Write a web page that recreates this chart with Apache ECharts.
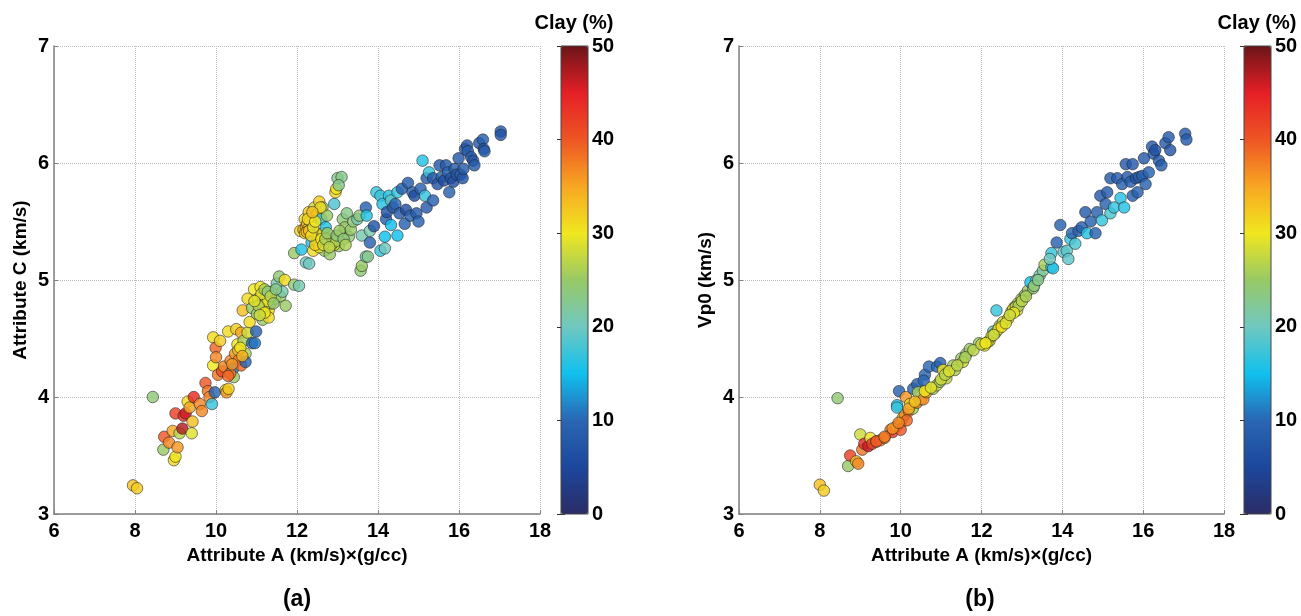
<!DOCTYPE html>
<html><head><meta charset="utf-8">
<script src="https://cdn.jsdelivr.net/npm/echarts@6/dist/echarts.min.js"></script>
<style>html,body{margin:0;padding:0;background:#fff}#c{width:1301px;height:616px}</style>
</head><body><div id="c"></div>
<script>
// Panel (a): Attribute A vs Attribute C, coloured by clay %
const aAttrA = [7.95,8.05,8.44,8.7,8.72,8.84,8.93,8.96,9.0,9.0,9.05,9.1,9.17,9.2,9.25,9.3,9.35,9.4,9.42,9.45,9.6,9.65,9.74,9.8,9.84,9.9,9.93,9.93,9.97,9.99,10.0,10.05,10.1,10.15,10.2,10.24,10.26,10.31,10.3,10.36,10.42,10.44,10.47,10.5,10.53,10.57,10.62,10.62,10.68,10.66,10.73,10.73,10.78,10.83,10.89,10.96,10.99,10.78,10.89,10.94,11.01,11.04,11.1,11.15,11.18,11.25,11.3,11.35,11.4,11.3,11.46,11.5,11.56,11.59,11.64,11.7,11.72,11.93,12.05,11.93,12.11,12.08,12.16,12.19,12.22,12.3,12.29,12.34,12.36,12.4,12.43,12.47,12.5,12.55,12.6,12.63,12.65,12.68,12.71,12.74,12.78,12.81,12.86,12.92,12.95,12.97,13.0,13.1,13.03,13.03,13.08,13.13,13.18,13.23,13.28,13.33,13.39,13.49,13.54,13.6,13.57,13.6,13.7,13.75,13.8,13.7,13.72,13.8,13.9,13.96,14.06,14.06,14.17,14.17,14.11,14.2,14.22,14.27,14.32,14.32,14.37,14.43,14.48,14.53,14.48,14.59,14.66,14.69,14.74,14.8,14.85,14.9,14.95,15.05,15.0,15.1,15.16,15.2,15.26,15.2,15.36,15.36,15.47,15.52,15.57,15.63,15.68,15.73,15.76,15.8,15.86,15.89,15.94,15.99,16.04,16.09,16.11,16.15,16.2,16.22,16.3,16.35,16.38,16.5,16.59,16.61,16.63,17.03,17.03,
 12.22,12.25,12.28,12.2,12.32,12.27,12.24,12.88,12.9,12.92,12.85,12.95,12.5,12.55,12.45,11.15,11.2,11.22,11.28,
 11.05,11.12,11.2,11.28,11.35,11.42,11.48,11.2,11.08,10.95,12.3,12.35,12.4,12.6,12.65,12.7,12.75,12.8,12.98,13.05,13.15,13.2,12.58,12.45,12.38,10.35,10.4,10.3,10.55,10.6,10.65];
const aAttrC = [3.245,3.22,4.0,3.55,3.66,3.61,3.71,3.46,3.49,3.86,3.57,3.69,3.73,3.84,3.86,3.96,3.91,3.69,3.79,4.0,3.94,3.88,4.12,4.05,4.0,3.94,4.51,4.27,4.04,4.42,4.34,4.19,4.48,4.22,4.26,4.06,4.04,4.07,4.56,4.31,4.24,4.17,4.37,4.58,4.45,4.32,4.27,4.55,4.48,4.74,4.37,4.30,4.55,4.64,4.46,4.46,4.56,4.84,4.76,4.92,4.71,4.84,4.94,4.66,4.80,4.88,4.74,4.80,4.90,4.68,4.84,4.97,5.03,4.86,4.90,5.0,4.78,4.96,4.95,5.23,5.26,5.42,5.43,5.52,5.15,5.14,5.58,5.47,5.32,5.25,5.62,5.40,5.56,5.67,5.52,5.62,5.40,5.25,5.45,5.55,5.32,5.22,5.35,5.65,5.75,5.78,5.87,5.88,5.81,5.29,5.38,5.52,5.45,5.57,5.37,5.43,5.50,5.52,5.55,5.38,5.08,5.12,5.20,5.20,5.32,5.62,5.55,5.42,5.46,5.75,5.72,5.25,5.27,5.37,5.65,5.52,5.58,5.72,5.68,5.47,5.62,5.65,5.38,5.57,5.75,5.78,5.48,5.60,5.83,5.55,5.75,5.72,5.57,5.78,5.50,6.02,5.72,5.87,5.92,5.62,5.68,5.87,5.82,5.98,5.88,5.85,5.98,5.92,5.75,5.87,5.84,5.95,5.90,6.04,5.90,5.87,5.95,6.12,6.15,6.10,6.05,6.02,5.98,6.17,6.2,6.12,6.1,6.27,6.24,
 5.45,5.48,5.44,5.40,5.50,5.52,5.41,5.32,5.34,5.30,5.30,5.33,5.33,5.28,5.30,4.82,4.78,4.84,4.82,
 4.78,4.88,4.92,4.9,4.86,4.8,4.92,4.72,4.7,4.82,5.42,5.38,5.45,5.35,5.3,5.35,5.4,5.28,5.38,5.42,5.35,5.3,5.62,5.5,5.58,4.2,4.28,4.18,4.4,4.42,4.35];
const aClay = [33,32,24,25,40,37,35,31,30,42,36,27,47,44,46,31,35,29,33,44,37,37,40,38,37,17,31,30,10,39,37,38,32,41,37,31,36,32,31,37,11,25,36,32,30,37,39,35,26,33,26,10,28,31,10,11,9,31,25,30,25,31,30,25,28,25,31,22,25,31,24,21,24,25,21,31,25,24,21,25,16,31,34,31,20,20,32,31,16,31,28,31,31,32,16,25,31,25,16,25,28,25,30,18,31,30,23,23,23,25,25,24,25,23,24,25,24,21,24,21,24,25,21,23,9,9,16,21,7,17,17,17,20,15,16,9,7,16,19,15,8,10,15,8,17,9,9,6,8,9,9,6,8,9,9,16,17,8,17,8,9,8,7,8,9,6,8,10,9,7,6,8,7,8,9,7,8,8,7,9,8,7,8,8,9,7,8,8,7,
 33,34,32,31,33,31,35,28,27,29,30,26,31,30,32,29,28,26,30,
 27,29,26,24,27,25,23,30,28,29,33,31,29,30,28,26,25,27,24,25,24,26,31,30,33,38,36,39,33,30,34];

// Panel (b): Attribute A vs Vp0, coloured by clay %
const bAttrA = [8.0,8.1,8.7,8.75,8.9,8.95,9.0,9.05,9.1,9.2,9.25,9.3,9.4,9.5,9.6,9.75,9.8,9.9,10.0,10.05,10.1,10.2,10.3,10.4,10.5,10.0,10.15,
 8.44,9.96,9.91,9.91,10.13,10.23,10.31,10.41,10.6,10.57,10.7,10.9,10.98,11.05,11.17,11.3,11.5,11.63,11.71,10.43,10.56,10.64,10.8,10.89,10.97,11.13,11.34,11.54,11.94,12.08,12.2,12.29,12.37,12.45,12.53,12.66,12.74,12.82,12.9,12.99,13.07,13.15,13.21,13.28,13.36,13.44,13.52,13.56,13.73,13.77,13.73,13.69,13.86,13.95,14.03,14.11,14.15,14.2,14.24,14.32,14.4,14.48,14.61,14.57,14.7,14.82,14.86,14.94,14.98,15.07,15.11,15.19,15.19,15.28,15.36,15.44,15.48,15.53,15.57,15.61,15.69,15.74,15.74,15.82,15.86,15.9,15.98,16.02,16.06,16.14,16.22,16.26,16.3,16.39,16.45,16.55,16.63,16.67,17.04,17.07,
 12.78,12.85,12.88,12.92,12.8,12.15,12.25,12.35,12.42,12.5,12.6,
 11.0,11.1,11.2,11.4,11.6,11.8,12.0,12.1,12.3,12.7,13.0,13.1,13.3,13.4,10.2,10.35,10.6,10.75,9.4,9.6,9.8,9.95];
const bVp0 = [3.25,3.2,3.41,3.5,3.45,3.43,3.68,3.55,3.6,3.58,3.65,3.6,3.62,3.63,3.65,3.72,3.7,3.75,3.78,3.82,3.85,3.88,3.9,3.95,3.98,3.72,3.8,
 3.99,4.05,3.93,3.91,4.0,3.94,4.07,4.11,4.19,4.14,4.26,4.26,4.29,4.23,4.21,4.27,4.33,4.37,4.41,4.04,3.98,4.04,4.07,4.1,4.13,4.16,4.23,4.3,4.46,4.44,4.48,4.56,4.74,4.61,4.64,4.67,4.73,4.77,4.8,4.84,4.87,4.91,4.98,4.93,5.0,5.04,5.08,5.13,5.11,5.1,5.23,5.18,5.32,5.47,5.24,5.25,5.18,5.35,5.4,5.31,5.42,5.45,5.4,5.58,5.5,5.4,5.58,5.72,5.51,5.65,5.75,5.57,5.87,5.62,5.87,5.7,5.82,5.62,5.99,5.88,5.84,5.99,5.72,5.87,5.75,5.88,5.89,6.04,5.82,5.92,6.14,6.08,6.11,6.02,5.98,6.17,6.22,6.11,6.25,6.2,
 4.75,4.77,4.74,4.78,4.72,4.47,4.52,4.55,4.58,4.6,4.63,
 4.15,4.19,4.22,4.27,4.34,4.4,4.45,4.46,4.53,4.7,4.82,4.86,4.95,5.0,3.9,3.96,4.05,4.08,3.62,3.66,3.73,3.78];
const bClay = [33,32,25,42,33,37,28,38,44,46,31,42,38,37,36,37,43,37,36,31,37,38,26,37,31,40,39,
 24,9,16,17,36,31,10,9,10,10,10,10,9,30,25,25,25,25,25,26,37,36,26,28,25,27,26,28,25,30,29,20,17,25,28,31,27,28,27,26,25,25,15,24,21,21,22,26,17,16,17,20,9,9,19,19,19,17,10,18,9,9,16,8,9,9,9,8,17,9,8,18,8,17,8,16,9,16,8,8,9,8,9,7,9,8,9,8,9,9,8,8,7,8,8,8,8,7,8,8,
 29,27,28,26,30,30,28,27,30,31,29,
 28,27,29,27,26,27,28,30,28,28,27,26,24,23,35,33,30,29,40,38,36,37];

const clayTicks = [0,10,20,30,40,50];
const clayColors = ['#2b2c66','#1c479c','#2a66b4','#10c0ee','#70c8c0','#98c966','#f0e71f','#f8a622','#ee5524','#e51f26','#6b1518'];

function zip(x,y,c){return x.map((v,i)=>[v,y[i],c[i]]);}

const chart = echarts.init(document.getElementById('c'));
const lblFont = {fontFamily:'Liberation Sans, Arial, sans-serif', fontWeight:'bold', fontSize:20, color:'#000'};
const nameFont = {fontFamily:'Liberation Sans, Arial, sans-serif', fontWeight:'bold', fontSize:19, color:'#000'};
function mainX(gi){return {gridIndex:gi,type:'value',min:6,max:18,interval:2,
  name:'Attribute A (km/s)\u00d7(g/cc)',nameLocation:'middle',nameGap:29,nameTextStyle:nameFont,
  axisLine:{lineStyle:{color:'#808080',width:1.5}},axisTick:{inside:true,length:4,lineStyle:{color:'#808080'}},
  axisLabel:Object.assign({margin:7},lblFont),
  splitLine:{show:true,lineStyle:{type:'dotted',color:'#bdbdbd'}}};}
function mainY(gi,name){return {gridIndex:gi,type:'value',min:3,max:7,interval:1,
  name:name,nameLocation:'middle',nameGap:24,nameTextStyle:nameFont,
  axisLine:{lineStyle:{color:'#808080',width:1.5}},axisTick:{inside:true,length:4,lineStyle:{color:'#808080'}},
  axisLabel:Object.assign({margin:5},lblFont),
  splitLine:{show:true,lineStyle:{type:'dotted',color:'#bdbdbd'}}};}
function cbY(gi,pos,labels){return {gridIndex:gi,type:'value',min:0,max:50,interval:10,position:pos,
  axisLine:{show:false},axisTick:{show:true,inside:true,length:4,lineStyle:{color:'#333'}},
  axisLabel:Object.assign({show:labels,margin:4},lblFont),splitLine:{show:false}};}
function cbX(gi){return {gridIndex:gi,type:'value',show:false,min:0,max:1};}

const grids = [
 {left:54,top:46,width:486,height:468},
 {left:739,top:46,width:485,height:468},
 {left:561,top:46,width:27,height:468,show:true,borderColor:'#444',borderWidth:1,backgroundColor:'transparent',z:10},
 {left:1244,top:46,width:27,height:468,show:true,borderColor:'#444',borderWidth:1,backgroundColor:'transparent',z:10}
];
const sym = {symbol:'circle',symbolSize:11.5,itemStyle:{borderColor:'#222',borderWidth:0.7,opacity:0.82}};
function vm(si,left){return {type:'continuous',min:0,max:50,dimension:2,seriesIndex:si,left:left,top:46,
  itemWidth:27,itemHeight:468,padding:0,showLabel:false,calculable:false,hoverLink:false,
  inRange:{color:clayColors}};}

chart.setOption({
 animation:false,
 grid:grids,
 xAxis:[mainX(0),mainX(1),cbX(2),cbX(3)],
 yAxis:[mainY(0,'Attribute C (km/s)'),mainY(1,'Vp0 (km/s)'),cbY(2,'right',true),cbY(2,'left',false),cbY(3,'right',true),cbY(3,'left',false)],
 visualMap:[vm(0,561),vm(1,1244)],
 series:[
  Object.assign({type:'scatter',xAxisIndex:0,yAxisIndex:0,data:zip(aAttrA,aAttrC,aClay)},sym),
  Object.assign({type:'scatter',xAxisIndex:1,yAxisIndex:1,data:zip(bAttrA,bVp0,bClay)},sym)
 ],
 graphic:[
  {type:'text',x:574,y:23,style:{text:'Clay (%)',font:'bold 20px "Liberation Sans", Arial',fill:'#000',textAlign:'center',textVerticalAlign:'middle'}},
  {type:'text',x:1257,y:23,style:{text:'Clay (%)',font:'bold 20px "Liberation Sans", Arial',fill:'#000',textAlign:'center',textVerticalAlign:'middle'}},
  {type:'text',x:297,y:600,style:{text:'(a)',font:'bold 23px "Liberation Sans", Arial',fill:'#000',textAlign:'center',textVerticalAlign:'middle'}},
  {type:'text',x:980,y:600,style:{text:'(b)',font:'bold 23px "Liberation Sans", Arial',fill:'#000',textAlign:'center',textVerticalAlign:'middle'}}
 ]
});
</script></body></html>
